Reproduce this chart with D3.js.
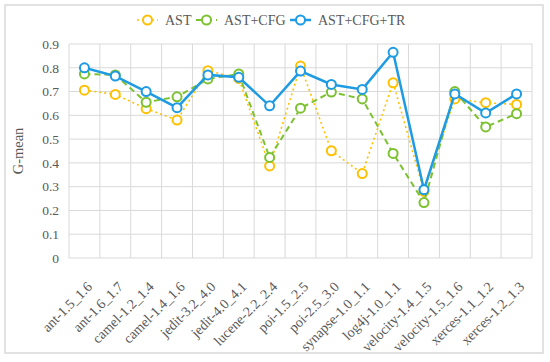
<!DOCTYPE html>
<html>
<head>
<meta charset="utf-8">
<script src="https://cdn.jsdelivr.net/npm/d3@7"></script>
<style>
  body { margin: 0; background: #fff; }
  .chart text { font-family: "Liberation Serif", "DejaVu Serif", serif; fill: #595959; }
</style>
</head>
<body>
<div class="chart" id="chart"></div>
<script>
// data
var categories = ["ant-1.5_1.6", "ant-1.6_1.7", "camel-1.2_1.4", "camel-1.4_1.6", "jedit-3.2_4.0",
  "jedit-4.0_4.1", "lucene-2.2_2.4", "poi-1.5_2.5", "poi-2.5_3.0", "synapse-1.0_1.1",
  "log4j-1.0_1.1", "velocity-1.4_1.5", "velocity-1.5_1.6", "xerces-1.1_1.2", "xerces-1.2_1.3"];
var ast      = [0.706, 0.688, 0.628, 0.580, 0.788, 0.755, 0.387, 0.807, 0.451, 0.355, 0.737, 0.280, 0.669, 0.653, 0.646];
var astCfg   = [0.774, 0.770, 0.655, 0.678, 0.753, 0.774, 0.423, 0.630, 0.698, 0.669, 0.440, 0.233, 0.700, 0.551, 0.607];
var astCfgTr = [0.800, 0.765, 0.700, 0.632, 0.770, 0.760, 0.640, 0.786, 0.730, 0.709, 0.865, 0.287, 0.690, 0.610, 0.690];
var yTicks = [0, 0.1, 0.2, 0.3, 0.4, 0.5, 0.6, 0.7, 0.8, 0.9];

var series = [
  { name: "AST", values: ast, color: "#FFC000", width: 1.6, dash: "2,3" },
  { name: "AST+CFG", values: astCfg, color: "#7CC230", width: 2, dash: "6,4" },
  { name: "AST+CFG+TR", values: astCfgTr, color: "#1E9BE3", width: 2.5, dash: null }
];

var W = 550, H = 362;
var margin = { top: 44, right: 18, bottom: 104, left: 69 };
var width = W - margin.left - margin.right;
var height = H - margin.top - margin.bottom;
var serif = "'Liberation Serif', 'DejaVu Serif', serif";

var svg = d3.select("#chart").append("svg")
    .attr("width", W)
    .attr("height", H)
    .attr("font-family", serif);

// outer frame
svg.append("rect")
    .attr("x", 5).attr("y", 5)
    .attr("width", 538).attr("height", 348)
    .attr("fill", "none")
    .attr("stroke", "#d9d9d9")
    .attr("stroke-width", 1.5);

var g = svg.append("g")
    .attr("transform", "translate(" + margin.left + "," + margin.top + ")");

var x = d3.scaleBand().domain(categories).range([0, width]);
var y = d3.scaleLinear().domain([0, 0.9]).range([height, 0]);

// horizontal grid
g.append("g")
  .selectAll("line")
  .data(yTicks)
  .enter().append("line")
    .attr("x1", 0).attr("x2", width)
    .attr("y1", function(d) { return y(d); })
    .attr("y2", function(d) { return y(d); })
    .attr("stroke", "#d9d9d9").attr("stroke-width", 1);

// vertical grid (band edges)
g.append("g")
  .selectAll("line")
  .data(d3.range(categories.length + 1))
  .enter().append("line")
    .attr("x1", function(i) { return i * x.bandwidth(); })
    .attr("x2", function(i) { return i * x.bandwidth(); })
    .attr("y1", 0).attr("y2", height)
    .attr("stroke", "#d9d9d9").attr("stroke-width", 1);

// y axis labels
var yAxis = g.append("g")
    .call(d3.axisLeft(y).tickValues(yTicks).tickFormat(function(d) { return d === 0 ? "0" : d3.format(".1f")(d); }).tickSize(0).tickPadding(10))
    .attr("font-family", serif);
yAxis.select(".domain").remove();
yAxis.selectAll("text").attr("font-size", 13.5);

// x axis labels
var xAxis = g.append("g")
    .attr("transform", "translate(0," + height + ")")
    .call(d3.axisBottom(x).tickSize(0))
    .attr("font-family", serif);
xAxis.select(".domain").remove();
xAxis.selectAll("text")
    .attr("font-size", 14)
    .attr("text-anchor", "end")
    .attr("dy", "0.35em")
    .attr("transform", "translate(3,24) rotate(-45)");

// y title
svg.append("text")
    .attr("transform", "translate(23," + (margin.top + height / 2) + ") rotate(-90)")
    .attr("text-anchor", "middle")
    .attr("font-size", 14.5)
    .text("G-mean");

var line = d3.line()
    .x(function(d, i) { return x(categories[i]) + x.bandwidth() / 2; })
    .y(function(d) { return y(d); });

series.forEach(function(s) {
  g.append("path")
      .datum(s.values)
      .attr("fill", "none")
      .attr("stroke", s.color)
      .attr("stroke-width", s.width)
      .attr("stroke-dasharray", s.dash)
      .attr("d", line);
  g.append("g")
    .selectAll("circle")
    .data(s.values)
    .enter().append("circle")
      .attr("cx", function(d, i) { return x(categories[i]) + x.bandwidth() / 2; })
      .attr("cy", function(d) { return y(d); })
      .attr("r", 4.5)
      .attr("fill", "#fff")
      .attr("stroke", s.color)
      .attr("stroke-width", 2);
});

// legend
var legendX = [137, 196, 290];
var legend = svg.append("g")
  .selectAll("g")
  .data(series)
  .enter().append("g")
    .attr("transform", function(d, i) { return "translate(" + legendX[i] + ",20)"; });

legend.append("line")
    .attr("x1", 0).attr("x2", 21)
    .attr("stroke", function(d) { return d.color; })
    .attr("stroke-width", function(d) { return d.width; })
    .attr("stroke-dasharray", function(d) { return d.dash; });
legend.append("circle")
    .attr("cx", 10.5).attr("r", 4.5)
    .attr("fill", "#fff")
    .attr("stroke", function(d) { return d.color; })
    .attr("stroke-width", 2);
legend.append("text")
    .attr("x", 28)
    .attr("dy", "0.35em")
    .attr("font-size", 14)
    .text(function(d) { return d.name; });
</script>
</body>
</html>
